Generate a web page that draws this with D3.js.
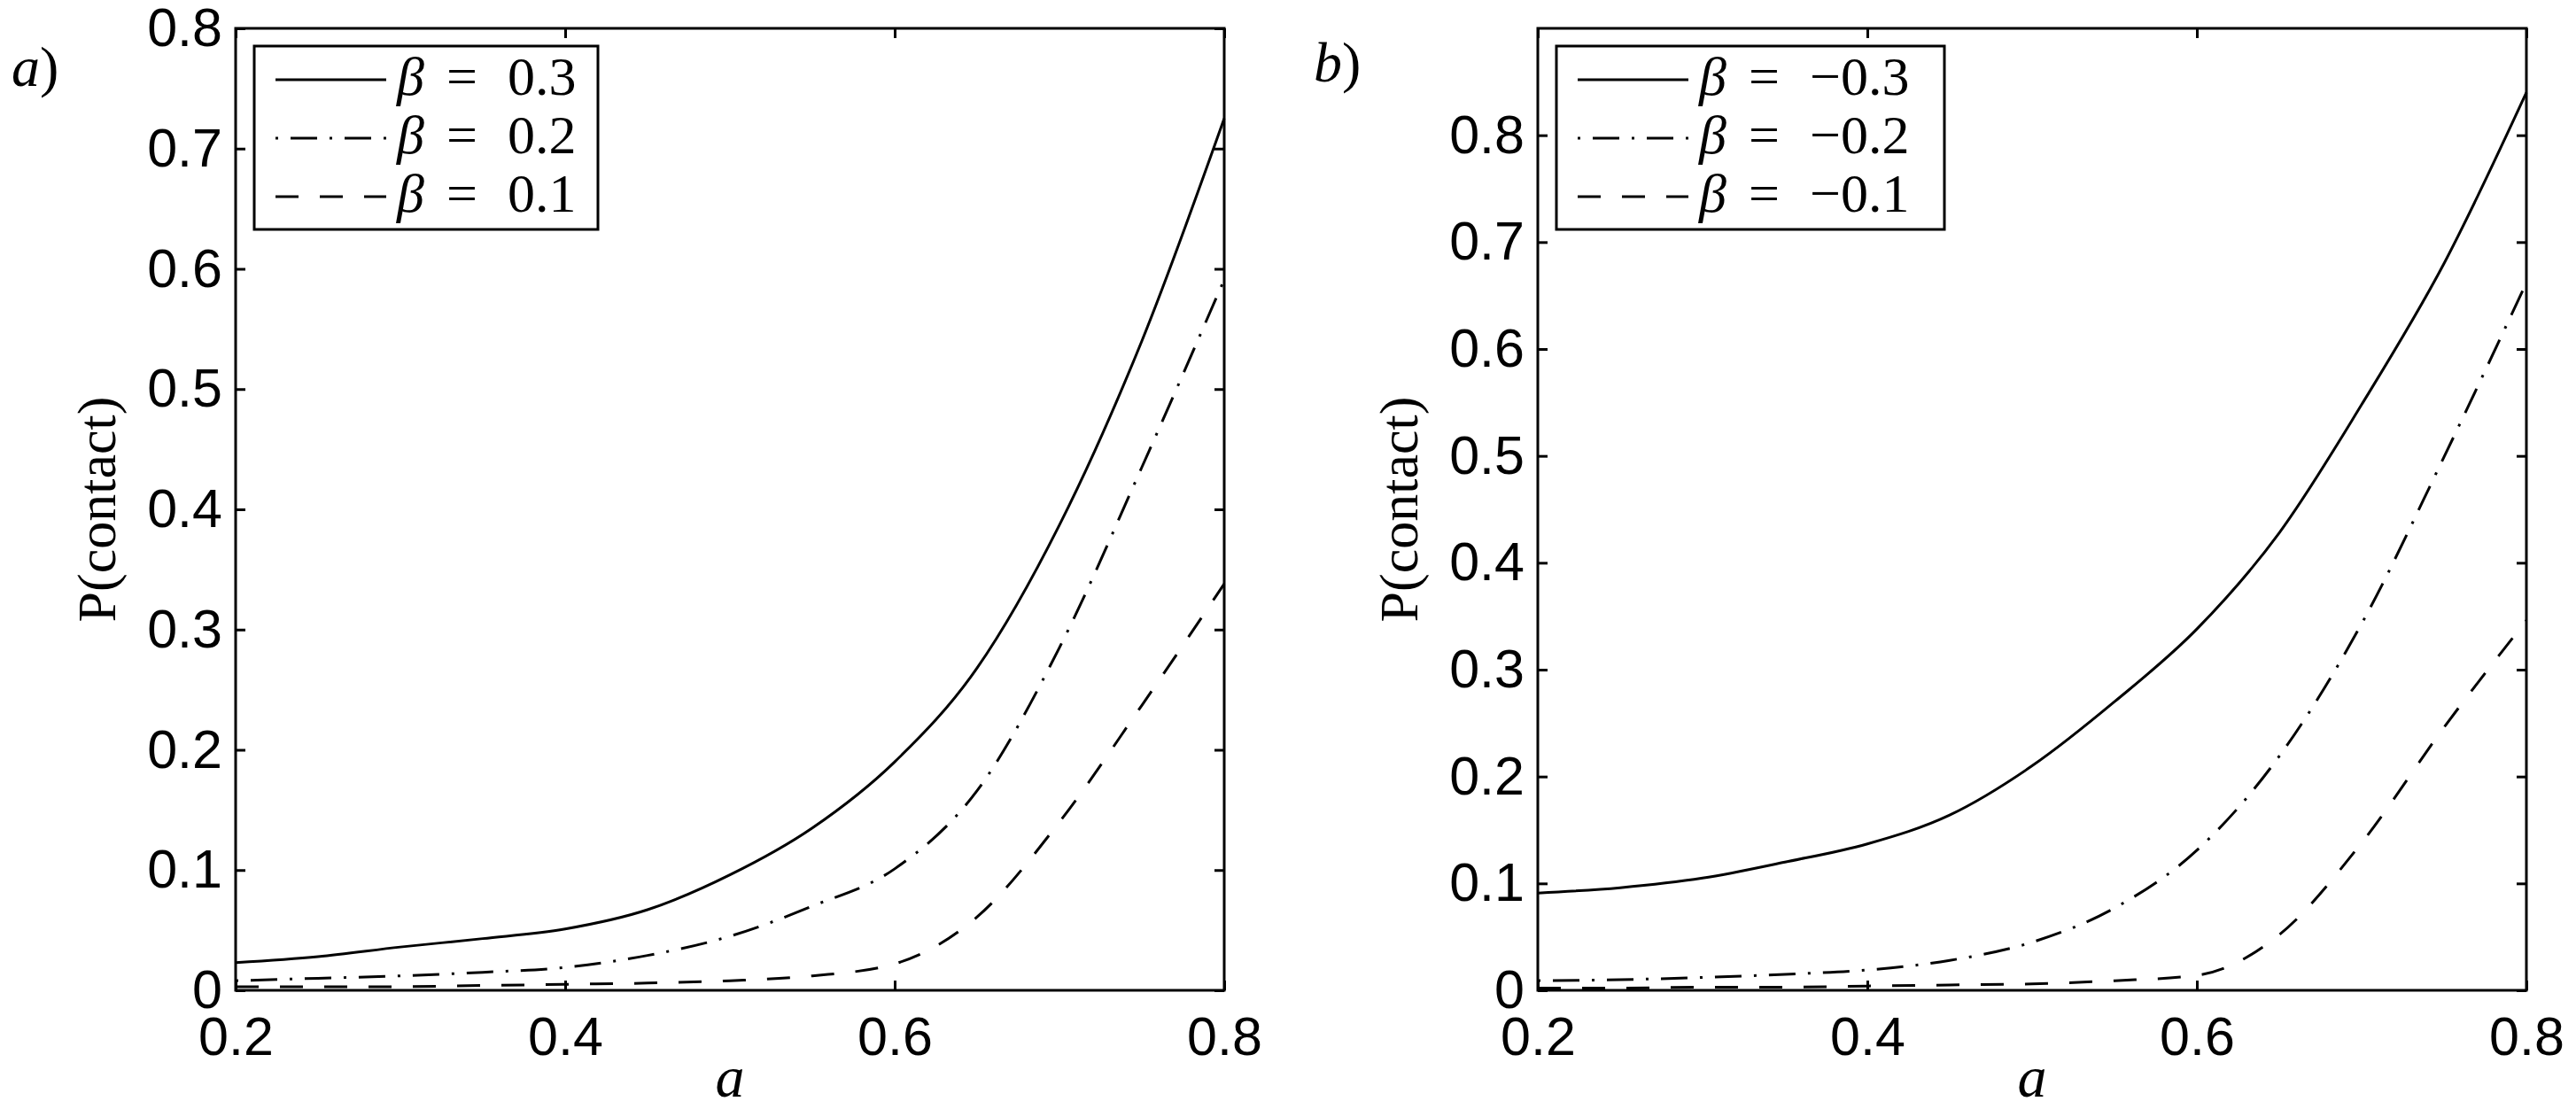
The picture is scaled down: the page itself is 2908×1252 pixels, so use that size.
<html>
<head>
    <title>P(contact) vs a</title>
    <script src="https://cdn.jsdelivr.net/npm/d3@7/dist/d3.min.js" charset="utf-8"></script>
    <style>
        body { margin: 0; background: #fff; }
    </style>
</head>
<body>
<script>

    const width = 2908;
    const height = 1252;

    // x values shared by every curve
    const aValues = [0.2, 0.25, 0.3, 0.35, 0.4, 0.45, 0.5, 0.55, 0.6, 0.65, 0.7, 0.75, 0.8];

    // panel a) beta > 0
    const pBetaP03 = [0.023, 0.028, 0.036, 0.043, 0.051, 0.067, 0.096, 0.135, 0.190, 0.268, 0.387, 0.540, 0.725];
    const pBetaP02 = [0.008, 0.010, 0.012, 0.015, 0.019, 0.029, 0.045, 0.070, 0.101, 0.166, 0.285, 0.435, 0.591];
    const pBetaP01 = [0.003, 0.003, 0.003, 0.004, 0.005, 0.006, 0.008, 0.012, 0.022, 0.061, 0.140, 0.237, 0.338];

    // panel b) beta < 0
    const pBetaM03 = [0.091, 0.096, 0.105, 0.120, 0.137, 0.164, 0.210, 0.270, 0.338, 0.428, 0.548, 0.680, 0.840];
    const pBetaM02 = [0.009, 0.010, 0.012, 0.015, 0.019, 0.028, 0.045, 0.077, 0.131, 0.219, 0.343, 0.499, 0.662];
    const pBetaM01 = [0.002, 0.002, 0.003, 0.003, 0.004, 0.005, 0.006, 0.009, 0.014, 0.052, 0.138, 0.246, 0.346];

    const xTicks = [0.2, 0.4, 0.6, 0.8];
    const yTicks = [0, 0.1, 0.2, 0.3, 0.4, 0.5, 0.6, 0.7, 0.8];

    const legendA = ["0.3", "0.2", "0.1"];
    const legendB = ["\u22120.3", "\u22120.2", "\u22120.1"];

    const dashes = [null, "3,14,30,14", "26,24"];

    const serif = "'Liberation Serif', 'DejaVu Serif', serif";
    const sans = "'Liberation Sans', Arial, Helvetica, sans-serif";

    const panels = [
        { tag: "a", left: 266, yMax: 0.8, series: [pBetaP03, pBetaP02, pBetaP01], legend: legendA, legendW: 388, tagY: 97 },
        { tag: "b", left: 1736, yMax: 0.9, series: [pBetaM03, pBetaM02, pBetaM01], legend: legendB, legendW: 438, tagY: 92 }
    ];

    const plotTop = 32;
    const plotW = 1116;
    const plotH = 1086;

    const svg = d3.select("body").append("svg")
        .attr("width", width)
        .attr("height", height)
        .style("background", "#fff");

    panels.forEach((p) => {

        const x = d3.scaleLinear().domain([0.2, 0.8]).range([0, plotW]);
        const y = d3.scaleLinear().domain([0, p.yMax]).range([plotH, 0]);

        const g = svg.append("g")
            .attr("transform", `translate(${p.left},${plotTop})`);

        const yFmt = (d) => d === 0 ? "0" : d3.format(".1f")(d);

        // left axis with labels
        const gy = g.append("g")
            .call(d3.axisLeft(y).tickValues(yTicks).tickFormat(yFmt)
                .tickSizeInner(-11).tickSizeOuter(0).tickPadding(15));
        // bottom axis with labels
        const gx = g.append("g")
            .attr("transform", `translate(0,${plotH})`)
            .call(d3.axisBottom(x).tickValues(xTicks).tickFormat(d3.format(".1f"))
                .tickSizeInner(-11).tickSizeOuter(0).tickPadding(30));
        // mirrored ticks
        const gr = g.append("g")
            .attr("transform", `translate(${plotW},0)`)
            .call(d3.axisRight(y).tickValues(yTicks).tickFormat("")
                .tickSizeInner(-11).tickSizeOuter(0));
        const gt = g.append("g")
            .call(d3.axisTop(x).tickValues(xTicks).tickFormat("")
                .tickSizeInner(-11).tickSizeOuter(0));

        [gy, gx, gr, gt].forEach((ax) => {
            ax.select(".domain").remove();
            ax.selectAll("line").attr("stroke", "#000").attr("stroke-width", 3);
            ax.selectAll("text")
                .attr("fill", "#000")
                .style("font-family", sans)
                .style("font-size", "61px");
        });

        // curves
        const line = d3.line()
            .x((d) => x(d[0]))
            .y((d) => y(d[1]))
            .curve(d3.curveMonotoneX);

        p.series.forEach((vals, i) => {
            g.append("path")
                .datum(aValues.map((a, k) => [a, vals[k]]))
                .attr("fill", "none")
                .attr("stroke", "#000")
                .attr("stroke-width", 3)
                .attr("stroke-dasharray", dashes[i])
                .attr("d", line);
        });

        // frame
        g.append("rect")
            .attr("width", plotW)
            .attr("height", plotH)
            .attr("fill", "none")
            .attr("stroke", "#000")
            .attr("stroke-width", 3);

        // legend
        const lg = g.append("g").attr("transform", "translate(21,20)");
        lg.append("rect")
            .attr("width", p.legendW)
            .attr("height", 207)
            .attr("fill", "#fff")
            .attr("stroke", "#000")
            .attr("stroke-width", 3);

        p.legend.forEach((lab, i) => {
            const ry = 38 + i * 66;
            lg.append("line")
                .attr("x1", 24).attr("x2", 149)
                .attr("y1", ry).attr("y2", ry)
                .attr("stroke", "#000")
                .attr("stroke-width", 3)
                .attr("stroke-dasharray", dashes[i]);
            const parts = [
                { dx: 161, s: "\u03b2", it: true },
                { dx: 217, s: "=", it: false },
                { dx: 286, s: lab, it: false }
            ];
            parts.forEach((pt) => {
                lg.append("text")
                    .attr("x", pt.dx)
                    .attr("y", ry + 17)
                    .style("font-family", serif)
                    .style("font-style", pt.it ? "italic" : "normal")
                    .style("font-size", "62px")
                    .text(pt.s);
            });
        });

        // axis titles
        g.append("text")
            .attr("transform", `translate(${130 - 266},${plotH / 2}) rotate(-90)`)
            .attr("text-anchor", "middle")
            .style("font-family", serif)
            .style("font-size", "62px")
            .text("P(contact)");

        g.append("text")
            .attr("x", plotW / 2)
            .attr("y", 1238 - plotTop)
            .attr("text-anchor", "middle")
            .style("font-family", serif)
            .style("font-style", "italic")
            .style("font-size", "66px")
            .text("a");

        // panel tag
        const tg = svg.append("text")
            .attr("x", p.left - 253)
            .attr("y", p.tagY)
            .style("font-family", serif)
            .style("font-size", "64px");
        tg.append("tspan").style("font-style", "italic").text(p.tag);
        tg.append("tspan").text(")");
    });

</script>
</body>
</html>
